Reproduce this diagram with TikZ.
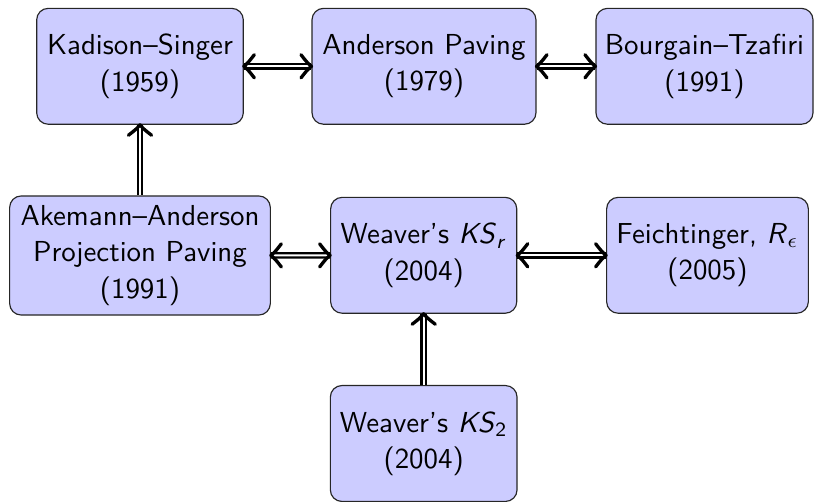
\documentclass[tikz,border=0pt]{standalone}
\usetikzlibrary{decorations.markings}
\begin{document}
\begin{tikzpicture}[
  x=0.346pt, y=-0.346pt,
  font=\sffamily\fontsize{10}{12.6}\selectfont,
  box/.style={draw=black!85, fill=blue!20, rounded corners=4pt,
    align=center, inner sep=0pt},
  shaft/.style={thick, double, double distance=0.7pt},
  chev/.style={draw, line width=1.15pt, line cap=round, line join=round},
  headend/.style={postaction={decorate, decoration={markings,
    mark=at position 1 with {\path[chev] (-3.6pt,4pt) .. controls (-1.5pt,1.3pt) .. (0,0)
      .. controls (-1.5pt,-1.3pt) .. (-3.6pt,-4pt);}}}},
  headstart/.style={postaction={decorate, decoration={markings,
    mark=at position 0 with {\path[chev] (3.6pt,4pt) .. controls (1.5pt,1.3pt) .. (0,0)
      .. controls (1.5pt,-1.3pt) .. (3.6pt,-4pt);}}}},
  headboth/.style={headstart, headend}
]
\useasboundingbox (0,0) rectangle (816,502);

\node[box, minimum width=71.5pt, minimum height=40.1pt] (ks) at (140,66.3)
  {Kadison--Singer\\(1959)};
\node[box, minimum width=77.5pt, minimum height=40.1pt] (ap) at (424,66.3)
  {Anderson Paving\\(1979)};
\node[box, minimum width=75.1pt, minimum height=40.1pt] (bt) at (704.5,66.3)
  {Bourgain--Tzafiri\\(1991)};

\node[box, minimum width=90.2pt, minimum height=41.2pt] (aa) at (140,255.5)
  {Akemann--Anderson\\Projection Paving\\(1991)};
\node[box, minimum width=64.4pt, minimum height=40.1pt] (kr) at (423.7,255.3)
  {Weaver's \textit{KS}\textsubscript{\textit{r}}\\(2004)};
\node[box, minimum width=69.8pt, minimum height=40.1pt] (fe) at (707.5,255.3)
  {Feichtinger, \textit{R}\textsubscript{$\epsilon$}\\(2005)};

\node[box, minimum width=64.6pt, minimum height=40.1pt] (k2) at (423.7,443.5)
  {Weaver's \textit{KS}\textsubscript{2}\\(2004)};

% double shafts
\draw[shaft] (ks) -- (ap);
\draw[shaft] (ap) -- (bt);
\draw[shaft] (aa) -- (kr);
\draw[shaft] (kr) -- (fe);
\draw[shaft] (aa) -- (ks);
\draw[shaft] (k2) -- (kr);

% chevron heads
\path[headboth] (ks) -- (ap);
\path[headboth] (ap) -- (bt);
\path[headboth] (aa) -- (kr);
\path[headboth] (kr) -- (fe);
\path[headend] (aa) -- (ks);
\path[headend] (k2) -- (kr);
\end{tikzpicture}
\end{document}
